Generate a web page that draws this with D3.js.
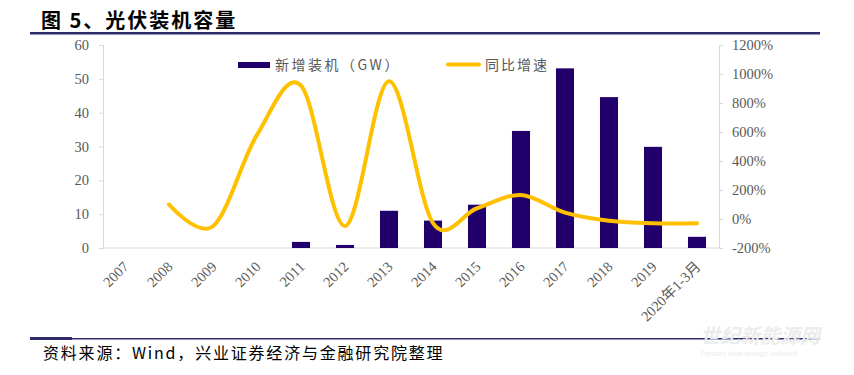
<html>
<head>
<meta charset="utf-8">
<script src="https://d3js.org/d3.v7.min.js"></script>
<style>
  body { margin: 0; background: #fff; }
  .axis text { font-family: "Liberation Serif", "DejaVu Serif", serif; font-size: 14.5px; fill: #595959; }
  .axis line, .axis .domain { stroke: #d9d9d9; }
</style>
</head>
<body>
<div id="chart"></div>
<script>
// categories and series
const years = ['2007', '2008', '2009', '2010', '2011', '2012', '2013', '2014',
               '2015', '2016', '2017', '2018', '2019', '2020年1-3月'];
const newCap = [0, 0, 0, 0, 1.8, 0.9, 11.0, 8.1, 12.8, 34.6, 53.1, 44.6, 29.9, 3.3];   // GW
const growth = [null, 100, -50, 580, 920, -48, 950, -28, 74, 166, 44, -12, -30, -30];  // %
const leftTicks = [0, 10, 20, 30, 40, 50, 60];
const rightTicks = [-200, 0, 200, 400, 600, 800, 1000, 1200];

const svg = d3.select('#chart').append('svg')
    .attr('width', 854)
    .attr('height', 375);

const plot = { left: 103, right: 719, top: 45, bottom: 248 };

const x = d3.scaleBand().domain(years).range([plot.left, plot.right])
    .paddingInner(0.59).paddingOuter(0.295);
const yL = d3.scaleLinear().domain([0, 60]).range([plot.bottom, plot.top]);
const yR = d3.scaleLinear().domain([-200, 1200]).range([plot.bottom, plot.top]);

// title + rules
svg.append('text')
    .attr('x', 41).attr('y', 28)
    .style('font-family', '"Noto Sans CJK SC", sans-serif')
    .style('font-weight', 'bold')
    .style('font-size', '20px')
    .style('letter-spacing', '2px')
    .style('fill', '#000')
    .text('图 5、光伏装机容量');
svg.append('rect').attr('x', 30).attr('y', 32).attr('width', 790).attr('height', 2.5).attr('fill', '#2e2a6b');
svg.append('rect').attr('x', 30).attr('y', 338).attr('width', 790).attr('height', 1.5).attr('fill', '#2e2a6b');
svg.append('rect').attr('x', 30).attr('y', 337).attr('width', 42).attr('height', 3).attr('fill', '#2e2a6b');

// axes
svg.append('g')
    .attr('class', 'axis')
    .attr('transform', `translate(${plot.left},0)`)
    .call(d3.axisLeft(yL).tickValues(leftTicks).tickSize(4).tickPadding(10));

svg.append('g')
    .attr('class', 'axis')
    .attr('transform', `translate(${plot.right},0)`)
    .call(d3.axisRight(yR).tickValues(rightTicks).tickSize(4).tickPadding(9).tickFormat(d => d + '%'));

svg.append('line')
    .attr('x1', plot.left).attr('x2', plot.right)
    .attr('y1', plot.bottom).attr('y2', plot.bottom)
    .attr('stroke', '#d9d9d9');

// x labels, rotated
svg.append('g').selectAll('text')
    .data(years)
    .join('text')
    .attr('transform', d => `translate(${x(d) + x.bandwidth() / 2 + 1},${plot.bottom + 16}) rotate(-45)`)
    .attr('text-anchor', 'end')
    .attr('dy', '0.35em')
    .style('font-family', '"Liberation Serif", "Noto Sans CJK SC", serif')
    .style('font-size', '14.5px')
    .style('fill', '#595959')
    .text(d => d);

// bars
svg.append('g').selectAll('rect')
    .data(years)
    .join('rect')
    .attr('x', d => x(d))
    .attr('width', x.bandwidth())
    .attr('y', (d, i) => yL(newCap[i]))
    .attr('height', (d, i) => plot.bottom - yL(newCap[i]))
    .attr('fill', '#22006b');

// growth line
const line = d3.line()
    .x(d => x(d[0]) + x.bandwidth() / 2)
    .y(d => yR(d[1]))
    .curve(d3.curveCardinal.tension(0));

svg.append('path')
    .datum(years.map((d, i) => [d, growth[i]]).filter(d => d[1] !== null))
    .attr('d', line)
    .attr('fill', 'none')
    .attr('stroke', '#ffc000')
    .attr('stroke-width', 4)
    .attr('stroke-linecap', 'round');

// legend
svg.append('rect').attr('x', 238).attr('y', 62).attr('width', 32).attr('height', 6).attr('fill', '#22006b');
svg.append('text')
    .attr('x', 275).attr('y', 65).attr('dy', '0.35em')
    .style('font-family', '"Noto Sans CJK SC", sans-serif')
    .style('font-size', '14px')
    .style('letter-spacing', '2.5px')
    .style('fill', '#595959')
    .text('新增装机（GW）');
svg.append('line')
    .attr('x1', 448).attr('x2', 479).attr('y1', 64.5).attr('y2', 64.5)
    .attr('stroke', '#ffc000').attr('stroke-width', 4).attr('stroke-linecap', 'round');
svg.append('text')
    .attr('x', 485).attr('y', 65).attr('dy', '0.35em')
    .style('font-family', '"Noto Sans CJK SC", sans-serif')
    .style('font-size', '14px')
    .style('letter-spacing', '2px')
    .style('fill', '#595959')
    .text('同比增速');

// source note
svg.append('text')
    .attr('x', 43).attr('y', 359)
    .style('font-family', '"Noto Sans CJK SC", sans-serif')
    .style('font-size', '16px')
    .style('letter-spacing', '1.8px')
    .style('fill', '#000')
    .text('资料来源：Wind，兴业证券经济与金融研究院整理');

// faint watermark
svg.append('text')
    .attr('x', 700).attr('y', 343)
    .style('font-family', '"Noto Sans CJK SC", sans-serif')
    .style('font-size', '20px')
    .style('font-weight', 'bold')
    .style('font-style', 'italic')
    .style('fill', '#ececec')
    .text('世纪新能源网');
svg.append('text')
    .attr('x', 700).attr('y', 356)
    .style('font-family', 'Roboto, sans-serif')
    .style('font-size', '8px')
    .style('font-style', 'italic')
    .style('fill', '#ececec')
    .text('Century new energy network');
</script>
</body>
</html>
